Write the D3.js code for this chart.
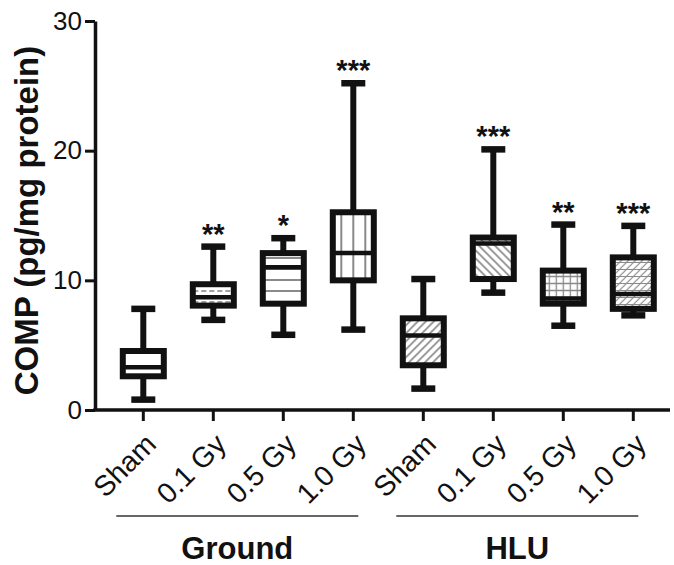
<!DOCTYPE html>
<html><head><meta charset="utf-8">
<script src="https://cdn.jsdelivr.net/npm/d3@7"></script>
<style>
html,body{margin:0;padding:0;background:#fff;}
svg{display:block;font-family:"Liberation Sans",Arial,Helvetica,sans-serif;}
</style></head>
<body>
<svg id="chart" width="674" height="565"></svg>
<script>
// ---- data ----
const categories = ["Sham","0.1 Gy","0.5 Gy","1.0 Gy","Sham","0.1 Gy","0.5 Gy","1.0 Gy"];
const groups = ["Ground","HLU"];
const groupOf = [0,0,0,0,1,1,1,1];
const whiskerLow  = [0.8, 6.95, 5.8, 6.2, 1.65, 9.05, 6.5, 7.3];
const q1          = [2.6, 8.05, 8.2, 10.0, 3.45, 10.1, 8.2, 7.8];
const median      = [3.3, 8.7, 11.0, 12.1, 5.75, 12.85, 8.6, 8.95];
const q3          = [4.55, 9.7, 12.1, 15.25, 7.07, 13.3, 10.75, 11.77];
const whiskerHigh = [7.8, 12.6, 13.25, 25.2, 10.1, 20.1, 14.3, 14.2];
const stars       = ["", "**", "*", "***", "", "***", "**", "***"];
const fills       = ["none","hdash","hlines","vlines","diagR","diagL","grid","diagH"];
const yTicks = [0, 10, 20, 30];
const yTitle = "COMP (pg/mg protein)";

// ---- layout ----
const svg = d3.select("#chart");
const ink = "#111";
const y = d3.scaleLinear().domain([0, 30]).range([410, 21]);
const x = d3.scaleBand().domain(d3.range(categories.length)).range([108.3, 668.3]).padding(0);
const cx = i => x(i) + x.bandwidth() / 2;
const boxW = 41;

// ---- patterns ----
const defs = svg.append("defs");
const gray = "#8a8a8a";
function pat(id, i, w, h, draw) {
  const p = defs.append("pattern").attr("id", id + i).attr("patternUnits", "userSpaceOnUse")
    .attr("x", cx(i) - w / 2).attr("y", 0).attr("width", w).attr("height", h);
  p.append("rect").attr("width", w).attr("height", h).attr("fill", "#fff");
  draw(p, w, h);
}
categories.forEach((c, i) => {
  const f = fills[i];
  if (f === "hdash") pat(f, i, 8, 11, (p) => {
    p.append("line").attr("x1", 0).attr("x2", 5).attr("y1", 5).attr("y2", 5).attr("stroke", gray).attr("stroke-width", 1.6);
  });
  if (f === "hlines") pat(f, i, 10, 11, (p) => {
    p.append("line").attr("x1", 0).attr("x2", 10).attr("y1", 5).attr("y2", 5).attr("stroke", gray).attr("stroke-width", 2);
  });
  if (f === "vlines") pat(f, i, 12, 10, (p) => {
    p.append("line").attr("x1", 6).attr("x2", 6).attr("y1", 0).attr("y2", 10).attr("stroke", gray).attr("stroke-width", 2);
  });
  if (f === "diagR") pat(f, i, 8, 8, (p) => {
    p.append("path").attr("d", "M-2,2 L2,-2 M0,8 L8,0 M6,10 L10,6").attr("stroke", gray).attr("stroke-width", 1.6);
  });
  if (f === "diagL") pat(f, i, 8, 8, (p) => {
    p.append("path").attr("d", "M-2,6 L2,10 M0,0 L8,8 M6,-2 L10,2").attr("stroke", gray).attr("stroke-width", 1.6);
  });
  if (f === "grid") pat(f, i, 7, 7, (p) => {
    p.append("path").attr("d", "M0,3.5 L7,3.5 M3.5,0 L3.5,7").attr("stroke", gray).attr("stroke-width", 1.3);
  });
  if (f === "diagH") pat(f, i, 7, 7, (p) => {
    p.append("path").attr("d", "M-2,2 L2,-2 M0,7 L7,0 M5,9 L9,5 M0,3.5 L7,3.5").attr("stroke", gray).attr("stroke-width", 1.2);
  });
});

// ---- axes ----
const yAxis = d3.axisLeft(y).tickValues(yTicks).tickSize(10).tickSizeOuter(0).tickPadding(3);
const gy = svg.append("g").attr("transform", "translate(95,0)").call(yAxis);
gy.select(".domain").attr("stroke", ink).attr("stroke-width", 3.5);
gy.selectAll(".tick line").attr("stroke", ink).attr("stroke-width", 3);
gy.selectAll(".tick text").attr("fill", ink).style("font-size", "26px");

const xAxis = d3.axisBottom(x).tickSize(11).tickSizeOuter(0).tickFormat(i => categories[i]);
const gx = svg.append("g").attr("transform", "translate(0,410)").call(xAxis);
gx.select(".domain").remove();
gx.selectAll(".tick line").attr("stroke", ink).attr("stroke-width", 3);
gx.selectAll(".tick text").attr("fill", ink).style("font-size", "28.5px")
  .attr("text-anchor", "end").attr("dy", null).attr("y", null)
  .attr("transform", "translate(14.5,36) rotate(-45)");
svg.append("line").attr("x1", 93.25).attr("x2", 670).attr("y1", y(0)).attr("y2", y(0))
  .attr("stroke", ink).attr("stroke-width", 3.5);

// y title
svg.append("text").attr("transform", `translate(37.5,${(y(0) + y(30)) / 2 + 5}) rotate(-90)`)
  .attr("text-anchor", "middle").attr("fill", ink)
  .style("font-size", "33px").style("font-weight", "bold").text(yTitle);

// ---- boxes ----
const g = svg.append("g");
categories.forEach((c, i) => {
  const xc = cx(i);
  const b = g.append("g");
  b.append("line").attr("x1", xc).attr("x2", xc).attr("y1", y(q3[i])).attr("y2", y(whiskerHigh[i]))
    .attr("stroke", ink).attr("stroke-width", 6);
  b.append("line").attr("x1", xc).attr("x2", xc).attr("y1", y(q1[i])).attr("y2", y(whiskerLow[i]))
    .attr("stroke", ink).attr("stroke-width", 6);
  [whiskerHigh[i], whiskerLow[i]].forEach(v => {
    b.append("line").attr("x1", xc - 12).attr("x2", xc + 12).attr("y1", y(v)).attr("y2", y(v))
      .attr("stroke", ink).attr("stroke-width", 6.5);
  });
  b.append("rect").attr("x", xc - boxW / 2).attr("width", boxW)
    .attr("y", y(q3[i])).attr("height", y(q1[i]) - y(q3[i]))
    .attr("fill", fills[i] === "none" ? "#fff" : `url(#${fills[i]}${i})`)
    .attr("stroke", ink).attr("stroke-width", 6);
  b.append("line").attr("x1", xc - boxW / 2).attr("x2", xc + boxW / 2).attr("y1", y(median[i])).attr("y2", y(median[i]))
    .attr("stroke", ink).attr("stroke-width", 4.5);
  if (stars[i]) {
    b.append("text").attr("x", xc).attr("y", y(whiskerHigh[i]) - 3).attr("text-anchor", "middle")
      .attr("fill", ink).style("font-size", "29px").style("font-weight", "bold").text(stars[i]);
  }
});

// ---- group labels ----
groups.forEach((gname, k) => {
  const idx = d3.range(categories.length).filter(i => groupOf[i] === k);
  const x0 = cx(idx[0]) - 27, x1 = cx(idx[idx.length - 1]) + 5;
  svg.append("line").attr("x1", x0).attr("x2", x1).attr("y1", 516).attr("y2", 516)
    .attr("stroke", "#333").attr("stroke-width", 1.6);
  svg.append("text").attr("x", (x0 + x1) / 2).attr("y", 559).attr("text-anchor", "middle")
    .attr("fill", ink).style("font-size", "31px").style("font-weight", "bold").text(gname);
});
</script>
</body></html>
